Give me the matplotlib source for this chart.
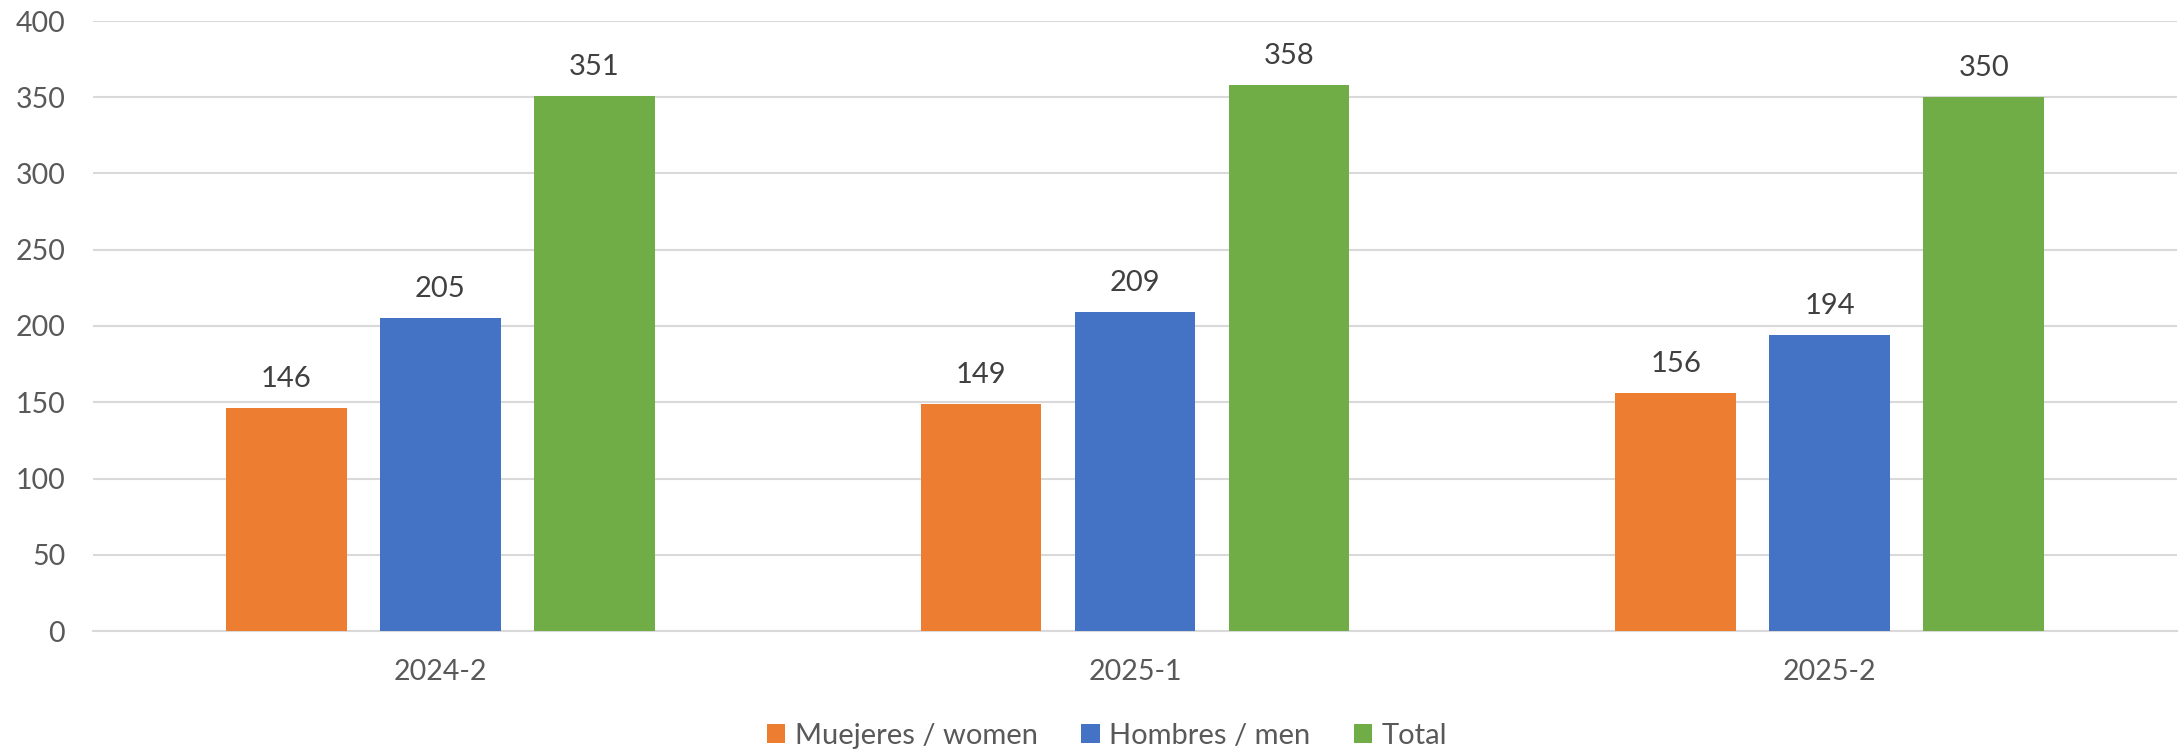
import matplotlib
matplotlib.use("Agg")
import matplotlib.pyplot as plt
import numpy as np

categories = ["2024-2", "2025-1", "2025-2"]
women = [146, 149, 156]
men = [205, 209, 194]
total = [351, 358, 350]
series_names = ["Muejeres / women", "Hombres / men", "Total"]
colors = ["#ED7D31", "#4472C4", "#70AD47"]

plt.rcParams['font.family'] = ['Lato', 'DejaVu Sans']

W, H = 2183, 752
fig = plt.figure(figsize=(W / 100, H / 100), dpi=100)
ax = fig.add_axes([93 / W, 1 - 631 / H, (2177 - 93) / W, (631 - 21) / H])

x = np.arange(len(categories))
bw = 0.174
step = 0.2217
for i, (vals, name, c) in enumerate(zip([women, men, total], series_names, colors)):
    bars = ax.bar(x + (i - 1) * step, vals, width=bw, color=c, label=name, zorder=3)
    for b, v in zip(bars, vals):
        ax.annotate(str(v), (b.get_x() + b.get_width() / 2, v), xytext=(0, 21),
                    textcoords="offset points", ha="center", va="center",
                    fontsize=21, color="#404040")

ax.set_xlim(-0.5, 2.5)
ax.set_ylim(0, 400)
ax.set_yticks(range(0, 401, 50))
ax.set_xticks(x)
ax.set_xticklabels(categories)
ax.yaxis.grid(True, color="#D9D9D9", linewidth=1.5, zorder=0)
ax.set_axisbelow(True)
for s in ["top", "right", "left"]:
    ax.spines[s].set_visible(False)
ax.spines["bottom"].set_color("#D9D9D9")
ax.spines["bottom"].set_linewidth(1.5)
ax.tick_params(axis="both", length=0, labelsize=20.5, labelcolor="#595959")
ax.tick_params(axis="y", pad=20)
ax.tick_params(axis="x", pad=20)

leg = fig.legend(loc="center", bbox_to_anchor=(1107 / W, 1 - 736 / H), ncol=3, frameon=False,
                 fontsize=21, handlelength=0.62, handleheight=0.62, handletextpad=0.32,
                 columnspacing=1.5, labelcolor="#595959")

fig.savefig("out.png", dpi=100)
